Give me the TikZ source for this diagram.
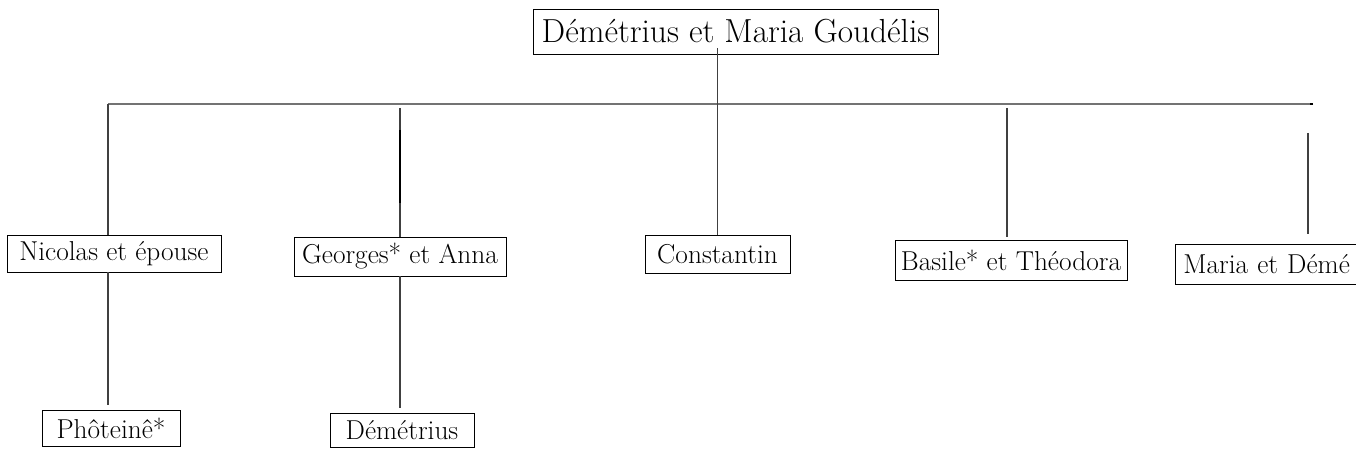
\documentclass[tikz,border=0pt]{standalone}
\usepackage{fontspec}
\begin{document}
\begin{tikzpicture}[x=0.75pt,y=0.75pt,yscale=-1,xscale=1,
    person/.style={draw, line width=0.6pt, inner sep=0pt, font=\fontsize{20.5}{24}\selectfont},
    link/.style={line width=0.8pt, draw=black!75}]
    \useasboundingbox (0,0) rectangle (1356,452);

    % Text Node
    \node [person, minimum width=405*0.75pt, minimum height=45*0.75pt, font=\fontsize{25}{28}\selectfont] (parents) at (735.5,31.5) {Démétrius et Maria Goudélis};
    % Text Node
    \node [person, minimum width=214*0.75pt, minimum height=37*0.75pt] (nicolas) at (114,253.5) {Nicolas et épouse};
    % Text Node
    \node [person, minimum width=212*0.75pt, minimum height=39*0.75pt] (georges) at (400,256.5) {Georges* et Anna};
    % Text Node
    \node [person, minimum width=145*0.75pt, minimum height=38*0.75pt] (constantin) at (717.5,254) {Constantin};
    % Text Node
    \node [person, minimum width=232*0.75pt, minimum height=40*0.75pt] (basile) at (1011,260) {Basile* et Théodora};
    % Text Node
    \node [person, anchor=west, minimum height=40*0.75pt, text width=150pt, align=left, inner xsep=6pt] (maria) at (1175,264) {Maria et Démé};
    % Text Node
    \node [person, minimum width=138*0.75pt, minimum height=36*0.75pt] (photeine) at (111,428) {Phôteinê*};
    % Text Node
    \node [person, minimum width=144*0.75pt, minimum height=34*0.75pt] (demetrius) at (402,430) {Démétrius};

    %Straight Lines
    \coordinate (busL) at (108,104);
    \coordinate (busR) at (1313,104);
    \draw [link, draw=black!55] (busL) -- (busR);
    \draw [line width=1.5pt] (busR) -- ++(-3,0);
    %Straight Lines
    \draw [link, line width=1pt] ([yshift=-4.5pt]parents.south -| constantin.north) -- (constantin.north);
    %Straight Lines
    \draw [link] (busL) -- (busL |- nicolas.north);
    \coordinate (topG) at (400,108);
    \draw [link] (topG) -- (topG |- georges.north);
    \draw [line width=2.2pt] (400,130) -- (400,203);
    \coordinate (topB) at (1007,108);
    \draw [link] (topB) -- (1007,237);
    \coordinate (topM) at (1308,133);
    \draw [link] (topM) -- (1308,234);
    %Straight Lines
    \draw [link] (nicolas.south -| busL) -- (108,405);
    \draw [link] (georges.south -| topG) -- (400,408);
\end{tikzpicture}
\end{document}
